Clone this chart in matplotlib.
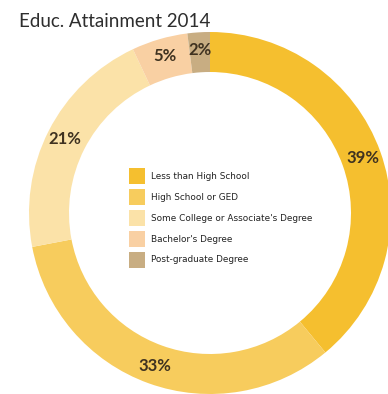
import numpy as np
import matplotlib
matplotlib.use("Agg")
import matplotlib.pyplot as plt
from matplotlib.patches import Rectangle

# educational attainment shares, 2014 (percent)
categories = [
    "Less than High School",
    "High School or GED",
    "Some College or Associate's Degree",
    "Bachelor's Degree",
    "Post-graduate Degree",
]
shares = [39, 33, 21, 5, 2]
colors = ["#F5BF2F", "#F7CC5D", "#FBE2A8", "#F9D0A3", "#C8AD82"]

W, H = 388, 394
CX, CY = 210, H - 213
R_OUT, RING = 181, 40

fig = plt.figure(figsize=(W / 100, H / 100), dpi=100)
ax = fig.add_axes([0, 0, 1, 1])

wedges, _ = ax.pie(
    shares,
    colors=colors,
    startangle=90,
    counterclock=False,
    center=(CX, CY),
    radius=R_OUT,
    wedgeprops=dict(width=RING, linewidth=0),
)
ax.set_xlim(0, W)
ax.set_ylim(0, H)
ax.set_aspect("equal")
ax.axis("off")

# percentage labels at the middle of each wedge
label_r = R_OUT - 18
for w, v in zip(wedges, shares):
    ang = np.deg2rad((w.theta1 + w.theta2) / 2)
    x = CX + label_r * np.cos(ang)
    y = CY + label_r * np.sin(ang)
    ax.text(x, y, f"{v}%", ha="center", va="center", fontsize=12,
            color="#3F3220", family="Lato", weight="bold")

ax.text(19, H - 21, "Educ. Attainment 2014", ha="left", va="center",
        fontsize=13.5, color="#2E2E2E", family="Lato")

# legend in the hole of the donut
for i, (name, c) in enumerate(zip(categories, colors)):
    y = H - 176 - i * 21
    ax.add_patch(Rectangle((129, y - 8), 16, 16, facecolor=c, edgecolor="none"))
    ax.text(151, y, name, ha="left", va="center", fontsize=6.4,
            color="#222222", family="Liberation Sans Narrow")

fig.savefig("out.png", dpi=100)
